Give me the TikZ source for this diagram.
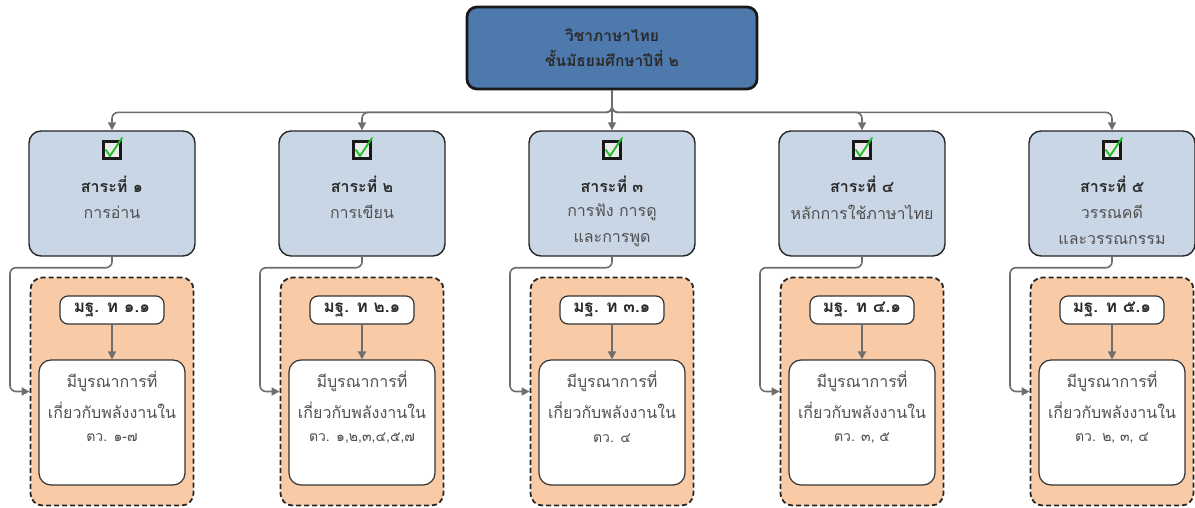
\documentclass[tikz,border=0pt]{standalone}
\usepackage{fontspec}
\setmainfont[Script=Thai]{Loma}
\usetikzlibrary{arrows.meta}
\definecolor{topblue}{HTML}{4E79AD}
\definecolor{lvblue}{HTML}{C9D6E6}
\definecolor{peach}{HTML}{F8CBA6}
\definecolor{conncol}{HTML}{6E6E6E}
\definecolor{txtgray}{HTML}{505050}
\definecolor{txtdark}{HTML}{2A2A2A}
\definecolor{chkgreen}{HTML}{22C02A}
\tikzset{
  topbox/.style={draw=black!90, line width=2.8pt, fill=topblue, rounded corners=10pt,
    minimum width=290pt, minimum height=82pt, align=center, text=txtdark,
    font=\bfseries\fontsize{15.5}{25}\selectfont},
  sarabox/.style={draw=black!85, line width=1.4pt, fill=lvblue, rounded corners=12pt,
    minimum width=166pt, minimum height=125pt},
  groupbox/.style={draw=black!85, dash pattern=on 5pt off 3pt, line width=1.8pt, fill=peach, rounded corners=12pt,
    minimum width=163pt, minimum height=228pt},
  stdbox/.style={draw=black!80, line width=1.2pt, fill=white, rounded corners=8pt,
    minimum width=104pt, minimum height=28pt, text=txtdark,
    font=\bfseries\fontsize{17}{19}\selectfont},
  descbox/.style={draw=black!80, line width=1.2pt, fill=white, rounded corners=12pt,
    minimum width=146pt, minimum height=125pt},
  chkbox/.style={draw=black!90, line width=2.4pt, fill=white!92!black, minimum size=17pt, inner sep=0pt},
  boldtxt/.style={text=txtdark, font=\bfseries\fontsize{16}{18}\selectfont, inner sep=0pt},
  normtxt/.style={text=txtgray, font=\fontsize{16}{18}\selectfont, inner sep=0pt},
  smalltxt/.style={text=txtgray, font=\fontsize{14}{16}\selectfont, inner sep=0pt},
  conn/.style={draw=conncol, line width=1.6pt, -{Triangle[length=8pt,width=8pt]}, rounded corners=6pt},
}
\begin{document}
\begin{tikzpicture}[x=1pt,y=-1pt]
\useasboundingbox (0,0) rectangle (1195,508);
\node[topbox] (top) at (612,48) {วิชาภาษาไทย\\ชั้นมัธยมศึกษาปีที่ ๒};
\foreach \i/\num/\la/\lb/\std/\tv in {
  1/๑/การอ่าน//๑.๑/{๑-๗},
  2/๒/การเขียน//๒.๑/{๑,๒,๓,๔,๕,๗},
  3/๓/การฟัง การดู/และการพูด/๓.๑/{๔},
  4/๔/หลักการใช้ภาษาไทย//๔.๑/{๓, ๕},
  5/๕/วรรณคดี/และวรรณกรรม/๕.๑/{๒, ๓, ๔}}{
  \pgfmathsetmacro{\cx}{112+250*(\i-1)}
  \node[sarabox] (s\i) at (\cx,193.5) {};
  \node[chkbox] (c\i) at (\cx,150) {};
  \draw[chkgreen, line width=1.9pt, line cap=round, line join=round]
    (\cx-6,150) -- (\cx-2,156) -- (\cx+10,138);
  \node[boldtxt] (t\i) at (\cx,184) {สาระที่ \num};
  \node[normtxt] (a\i) at (\cx,212) {\la};
  \node[normtxt] (b\i) at (\cx,240) {\lb};
  \node[groupbox] (g\i) at (\cx,391.5) {};
  \node[stdbox] (m\i) at (\cx,310) {มฐ. ท \std};
  \node[descbox] (d\i) at (\cx,422.5) {};
  \node[normtxt] (p\i) at (\cx,381) {มีบูรณาการที่};
  \node[normtxt] (q\i) at (\cx,410) {เกี่ยวกับพลังงานใน};
  \node[smalltxt] (r\i) at (\cx,438) {ตว. \tv};
  \draw[conn] (top.south) -- ++(0,22) -| (s\i.north);
  \draw[conn] (s\i.south) -- ++(0,11) -- ++(-102,0) |- (g\i.west);
  \draw[conn] (m\i.south) -- (d\i.north);
}
\end{tikzpicture}
\end{document}
